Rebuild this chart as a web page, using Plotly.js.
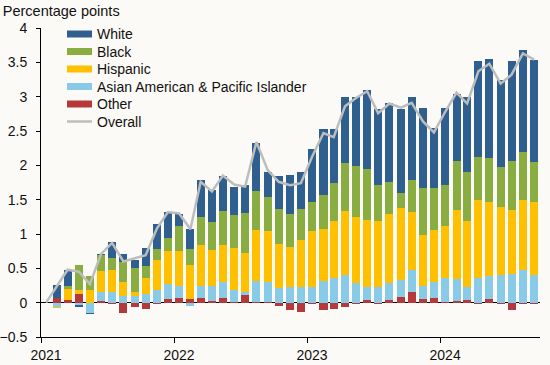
<!DOCTYPE html>
<html>
<head>
<meta charset="utf-8">
<script src="https://cdn.plot.ly/plotly-3.0.1.min.js"></script>
<style>html,body{margin:0;padding:0;background:#fcfaf6;}#chart{width:550px;height:365px;}</style>
</head>
<body>
<div id="chart"></div>
<script>
const months = ["2021-01-15","2021-02-15","2021-03-15","2021-04-15","2021-05-15","2021-06-15","2021-07-15","2021-08-15","2021-09-15","2021-10-15","2021-11-15","2021-12-15",
"2022-01-15","2022-02-15","2022-03-15","2022-04-15","2022-05-15","2022-06-15","2022-07-15","2022-08-15","2022-09-15","2022-10-15","2022-11-15","2022-12-15",
"2023-01-15","2023-02-15","2023-03-15","2023-04-15","2023-05-15","2023-06-15","2023-07-15","2023-08-15","2023-09-15","2023-10-15","2023-11-15","2023-12-15",
"2024-01-15","2024-02-15","2024-03-15","2024-04-15","2024-05-15","2024-06-15","2024-07-15","2024-08-15","2024-09-15"];

const white = [0,0.185,0.234,-0.024,-0.024,0.02,0.234,0.107,0.122,0.263,0.365,0.38,
0.185,0.292,0.54,0.467,0.51,0.41,0.41,0.70,0.365,0.48,0.57,0.54,
0.774,0.963,0.788,0.963,1.007,1.153,1.11,1.153,1.226,1.21,1.168,0.876,
1.124,0.978,1.095,1.401,1.445,1.27,1.46,1.489,1.489];
const black = [0,0,0.044,0.365,0.204,0.229,0.175,0.30,0.35,0.175,0.16,0.19,
0.365,0.234,0.41,0.41,0.496,0.48,0.58,0.57,0.496,0.51,0.48,0.45,
0.423,0.496,0.555,0.70,0.745,0.745,0.526,0.467,0.219,0.467,0.686,0.613,
0.599,0.715,0.715,0.628,0.642,0.584,0.715,0.70,0.584];
const hispanic = [0,-0.015,0.15,0.058,0.18,0.297,0.32,0.195,0.049,0.234,0.438,0.48,
0.51,0.496,0.6,0.525,0.54,0.61,0.56,0.745,0.745,0.64,0.584,0.686,
0.818,0.759,0.832,0.934,0.964,0.978,0.964,1.007,1.051,0.847,0.745,0.759,
0.759,1.007,0.964,1.139,1.08,0.993,0.934,1.022,1.066];
const aapi = [0,-0.063,0.01,-0.04,-0.146,0.141,0.15,0.102,0.102,0.122,0.18,0.22,
0.17,-0.054,0.175,0.214,0.234,0.165,0.054,0.297,0.28,0.21,0.224,0.224,
0.224,0.311,0.355,0.399,0.282,0.19,0.224,0.248,0.248,0.321,0.19,0.234,
0.355,0.321,0.19,0.355,0.336,0.40,0.414,0.472,0.40];
const other = [0,0.068,0.034,0.12,0,0.02,-0.02,-0.15,-0.063,-0.092,-0.02,0.049,
0.068,0.049,0.063,0.024,0.063,0.015,0.107,0.015,0.015,-0.054,-0.112,-0.14,
-0.024,-0.112,-0.092,-0.063,-0.02,0.034,-0.02,0.034,0.078,0.151,0.049,0.063,
0.005,0.02,0.034,-0.02,0.049,-0.024,-0.112,-0.024,-0.02];
const overall = [0,0.25,0.48,0.45,0.27,0.71,0.87,0.60,0.64,0.69,1.08,1.32,
1.30,1.07,1.76,1.62,1.85,1.72,1.69,2.34,1.93,1.76,1.71,1.74,
2.13,2.47,2.41,2.86,2.98,3.08,2.76,2.90,2.84,2.91,2.64,2.48,
2.78,3.06,2.90,3.37,3.48,3.19,3.32,3.63,3.54];

const yearTicks = ["2021-01-01","2022-01-01","2023-01-01","2024-01-01"];
const yearLabels = ["2021","2022","2023","2024"];

const seriesNames = ['White','Black','Hispanic','Asian American & Pacific Islander','Other','Overall'];
const seriesColors = ['#2e5f8e','#8aad41','#ffc000','#89cbe7','#b5393a','#bdbdbd'];

const barWidth = 22 * 86400000;
function bar(i, y) {
  return {type:'bar', name:seriesNames[i], x:months, y:y, width:barWidth,
    marker:{color:seriesColors[i], line:{width:0}}, hoverinfo:'skip'};
}
const data = [
  bar(4, other),
  bar(3, aapi),
  bar(2, hispanic),
  bar(1, black),
  bar(0, white),
  {type:'scatter', mode:'lines', name:seriesNames[5], x:months, y:overall,
   line:{color:seriesColors[5], width:2.5}, hoverinfo:'skip'}
];

// plot area in pixels: x 41..540, y 28..337
const L = 41, W = 499, T = 28, H = 309;
const px = v => (v - L) / W;
const py = v => (T + H - v) / H;

const fam = 'Arial, "Liberation Sans", sans-serif';
const shapes = [];
const annotations = [];
seriesNames.forEach((n, i) => {
  const cy = 34 + i * 17.5;
  if (i < 5) {
    shapes.push({type:'rect', xref:'paper', yref:'paper', x0:px(67), x1:px(92),
      y0:py(cy + 3.5), y1:py(cy - 3.5), fillcolor:seriesColors[i], line:{width:0}});
  } else {
    shapes.push({type:'line', xref:'paper', yref:'paper', x0:px(67), x1:px(92),
      y0:py(cy), y1:py(cy), line:{color:seriesColors[i], width:2.5}});
  }
  annotations.push({xref:'paper', yref:'paper', x:px(95), y:py(cy), text:n,
    showarrow:false, xanchor:'left', yanchor:'middle',
    font:{family:fam, size:14, color:'#111'}});
});

const layout = {
  width:550, height:365,
  margin:{l:L, r:550 - L - W, t:T, b:365 - T - H},
  paper_bgcolor:'#fcfaf6', plot_bgcolor:'#fcfaf6',
  font:{family:fam, size:14, color:'#111'},
  barmode:'relative', bargap:0,
  showlegend:false,
  shapes:shapes,
  annotations:annotations,
  title:{text:'Percentage points', xref:'container', x:0.005, xanchor:'left',
    yref:'container', y:0.97, yanchor:'middle',
    font:{family:fam, size:14.5, color:'#111'}},
  xaxis:{type:'date', range:['2021-01-01','2024-10-01'],
    tickmode:'array', tickvals:yearTicks, ticktext:yearLabels,
    ticks:'outside', ticklen:5, tickcolor:'#000', tickwidth:1,
    showline:true, linecolor:'#000', linewidth:1,
    showgrid:false, zeroline:false, ticklabelshift:5,
    tickfont:{family:fam, size:14, color:'#111'}},
  yaxis:{range:[-0.5,4], dtick:0.5, tick0:0,
    ticks:'outside', ticklen:4, tickcolor:'#000',
    showline:true, linecolor:'#000', linewidth:1,
    showgrid:false, zeroline:true, zerolinecolor:'#000', zerolinewidth:1.5,
    ticklabelstandoff:6,
    tickfont:{family:fam, size:14, color:'#111'}}
};
Plotly.newPlot('chart', data, layout, {staticPlot:true});
</script>
</body>
</html>
